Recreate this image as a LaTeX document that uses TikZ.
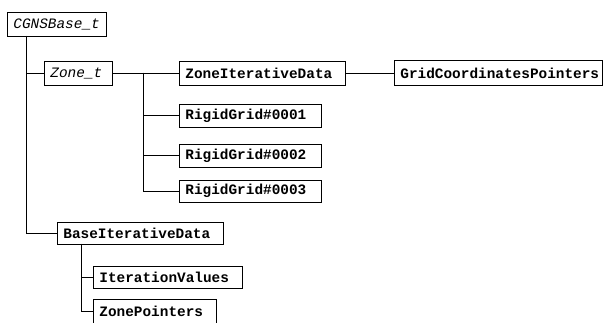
\documentclass[tikz,border=0pt]{standalone}
\usepackage{fontspec}
\newfontfamily\monob{Liberation Mono}[BoldFont=* Bold, ItalicFont=* Italic]
\begin{document}
\begin{tikzpicture}[x=1pt,y=-1pt,
  box/.style={draw, line width=0.8pt, inner xsep=6pt, inner ysep=0pt,
    minimum height=23pt, anchor=west, align=left,
    font=\monob\fontsize{14.4}{16}\selectfont\bfseries},
  ibox/.style={box, font=\monob\fontsize{14.4}{16}\selectfont\itshape},
  conn/.style={line width=0.8pt}]
\useasboundingbox (0,0) rectangle (603,323);
\node[ibox, text width=87pt, minimum height=24pt] (cgns) at (7,24) {CGNSBase\_t};
\node[ibox, text width=56pt, minimum height=24pt] (zone) at (44,73) {Zone\_t};
\node[box, text width=154pt, minimum height=24pt] (zid) at (179,73) {ZoneIterativeData};
\node[box, text width=196pt, minimum height=25pt] (gcp) at (394,73) {GridCoordinatesPointers};
\node[box, text width=130pt] (rg1) at (179,115.5) {RigidGrid\#0001};
\node[box, text width=130pt] (rg2) at (179,155.5) {RigidGrid\#0002};
\node[box, text width=130pt, minimum height=22pt] (rg3) at (179,191) {RigidGrid\#0003};
\node[box, text width=154pt, minimum height=22pt] (base) at (57,233) {BaseIterativeData};
\node[box, text width=137pt, minimum height=22pt] (iv) at (93,277) {IterationValues};
\node[box, text width=111pt, minimum height=24pt] (zp) at (93,311) {ZonePointers};
% connectors
\coordinate (c1) at (26,36);
\draw[conn] (c1) |- (zone.west);
\draw[conn] (c1) |- (base.west);
\draw[conn] (zone.east) -- (zid.west);
\draw[conn] (zid.east) -- (gcp.west);
\coordinate (z1) at (143,73);
\draw[conn] (z1) |- (rg1.west);
\draw[conn] (z1) |- (rg2.west);
\draw[conn] (z1) |- (rg3.west);
\coordinate (b1) at (81,244);
\draw[conn] (b1) |- (iv.west);
\draw[conn] (b1) |- (zp.west);
\end{tikzpicture}
\end{document}
